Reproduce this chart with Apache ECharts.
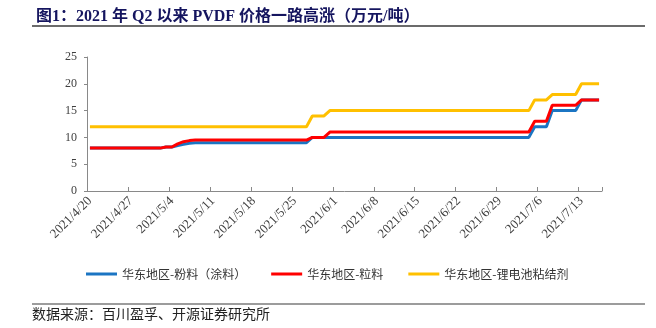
<!DOCTYPE html>
<html>
<head>
<meta charset="utf-8">
<script src="https://cdn.jsdelivr.net/npm/echarts@6/dist/echarts.min.js"></script>
<style>
  html, body { margin: 0; padding: 0; background: #fff; }
  #chart { width: 656px; height: 328px; }
</style>
</head>
<body>
<div id="chart"></div>
<script>
// Daily category axis, 2021/4/20 – 2021/7/16
const dates = [
  '2021/4/20','2021/4/21','2021/4/22','2021/4/23','2021/4/24','2021/4/25','2021/4/26','2021/4/27','2021/4/28','2021/4/29','2021/4/30',
  '2021/5/1','2021/5/2','2021/5/3','2021/5/4','2021/5/5','2021/5/6','2021/5/7','2021/5/8','2021/5/9','2021/5/10',
  '2021/5/11','2021/5/12','2021/5/13','2021/5/14','2021/5/15','2021/5/16','2021/5/17','2021/5/18','2021/5/19','2021/5/20',
  '2021/5/21','2021/5/22','2021/5/23','2021/5/24','2021/5/25','2021/5/26','2021/5/27','2021/5/28','2021/5/29','2021/5/30','2021/5/31',
  '2021/6/1','2021/6/2','2021/6/3','2021/6/4','2021/6/5','2021/6/6','2021/6/7','2021/6/8','2021/6/9','2021/6/10',
  '2021/6/11','2021/6/12','2021/6/13','2021/6/14','2021/6/15','2021/6/16','2021/6/17','2021/6/18','2021/6/19','2021/6/20',
  '2021/6/21','2021/6/22','2021/6/23','2021/6/24','2021/6/25','2021/6/26','2021/6/27','2021/6/28','2021/6/29','2021/6/30',
  '2021/7/1','2021/7/2','2021/7/3','2021/7/4','2021/7/5','2021/7/6','2021/7/7','2021/7/8','2021/7/9','2021/7/10',
  '2021/7/11','2021/7/12','2021/7/13','2021/7/14','2021/7/15','2021/7/16'
];

const seriesNames = ['华东地区-粉料（涂料）', '华东地区-粒料', '华东地区-锂电池粘结剂'];

// 华东地区-粉料（涂料），万元/吨
const powder = [
  8,8,8,8,8,8,8,8,8,8,8,
  8,8,8.2,8.2,8.5,8.7,8.9,9,9,9,
  9,9,9,9,9,9,9,9,9,9,
  9,9,9,9,9,9,9,10,10,10,10,
  10,10,10,10,10,10,10,10,10,10,
  10,10,10,10,10,10,10,10,10,10,
  10,10,10,10,10,10,10,10,10,10,
  10,10,10,10,12,12,12,15,15,15,
  15,15,17,17,17,17
];

// 华东地区-粒料，万元/吨
const pellet = [
  8,8,8,8,8,8,8,8,8,8,8,
  8,8,8.2,8.2,8.8,9.2,9.4,9.5,9.5,9.5,
  9.5,9.5,9.5,9.5,9.5,9.5,9.5,9.5,9.5,9.5,
  9.5,9.5,9.5,9.5,9.5,9.5,9.5,10,10,10,11,
  11,11,11,11,11,11,11,11,11,11,
  11,11,11,11,11,11,11,11,11,11,
  11,11,11,11,11,11,11,11,11,11,
  11,11,11,11,13,13,13,16,16,16,
  16,16,17,17,17,17
];

// 华东地区-锂电池粘结剂，万元/吨
const binder = [
  12,12,12,12,12,12,12,12,12,12,12,
  12,12,12,12,12,12,12,12,12,12,
  12,12,12,12,12,12,12,12,12,12,
  12,12,12,12,12,12,12,14,14,14,15,
  15,15,15,15,15,15,15,15,15,15,
  15,15,15,15,15,15,15,15,15,15,
  15,15,15,15,15,15,15,15,15,15,
  15,15,15,15,17,17,17,18,18,18,
  18,18,20,20,20,20
];

const colors = ['#1B75C3', '#FF0000', '#FFC000'];
const serif = "'Liberation Serif', 'Times New Roman', serif";
const cjk = "'Noto Sans CJK SC', sans-serif";

const chart = echarts.init(document.getElementById('chart'), null, { renderer: 'canvas' });

chart.setOption({
  animation: false,
  backgroundColor: '#ffffff',
  title: {
    text: '图1：2021 年 Q2 以来 PVDF 价格一路高涨（万元/吨）',
    left: 31,
    top: 4,
    textStyle: {
      fontFamily: "'Liberation Serif', 'Noto Sans CJK SC', serif",
      fontSize: 16,
      fontWeight: 'bold',
      color: '#15155f'
    }
  },
  graphic: [
    { type: 'line', shape: { x1: 32, y1: 26, x2: 645, y2: 26 }, style: { stroke: '#3a3a3a', lineWidth: 1.5 } },
    { type: 'line', shape: { x1: 32, y1: 304, x2: 645, y2: 304 }, style: { stroke: '#3a3a3a', lineWidth: 1.2 } },
    {
      type: 'text', left: 32, top: 307,
      style: { text: '数据来源：百川盈孚、开源证券研究所', font: "14px 'Noto Sans CJK SC', sans-serif", fill: '#222' }
    }
  ],
  legend: {
    data: seriesNames,
    left: 81,
    top: 263,
    icon: 'rect',
    itemWidth: 31,
    itemHeight: 3,
    itemGap: 25,
    textStyle: { fontFamily: cjk, fontSize: 12, color: '#333' }
  },
  grid: { left: 87, right: 54, top: 57, bottom: 137, containLabel: false },
  xAxis: {
    type: 'category',
    data: dates,
    boundaryGap: true,
    axisLine: { lineStyle: { color: '#898989', width: 1 } },
    axisTick: { show: true, interval: 6, inside: true, length: 4, lineStyle: { color: '#898989' } },
    axisLabel: {
      interval: 6,
      rotate: 45,
      margin: 8,
      fontFamily: serif,
      fontSize: 13,
      color: '#404040'
    },
    splitLine: { show: false }
  },
  yAxis: {
    type: 'value',
    min: 0,
    max: 25,
    interval: 5,
    axisLine: { show: true, lineStyle: { color: '#898989', width: 1 } },
    axisTick: { show: true, length: 3, lineStyle: { color: '#898989' } },
    axisLabel: { margin: 10, fontFamily: serif, fontSize: 12, color: '#404040' },
    splitLine: { show: false }
  },
  series: [
    { name: seriesNames[0], data: powder },
    { name: seriesNames[1], data: pellet },
    { name: seriesNames[2], data: binder }
  ].map((s, k) => ({
    name: s.name,
    type: 'line',
    data: s.data,
    showSymbol: false,
    symbol: 'none',
    color: colors[k],
    lineStyle: { width: 3, color: colors[k] },
    z: 2 + k
  }))
});
</script>
</body>
</html>
